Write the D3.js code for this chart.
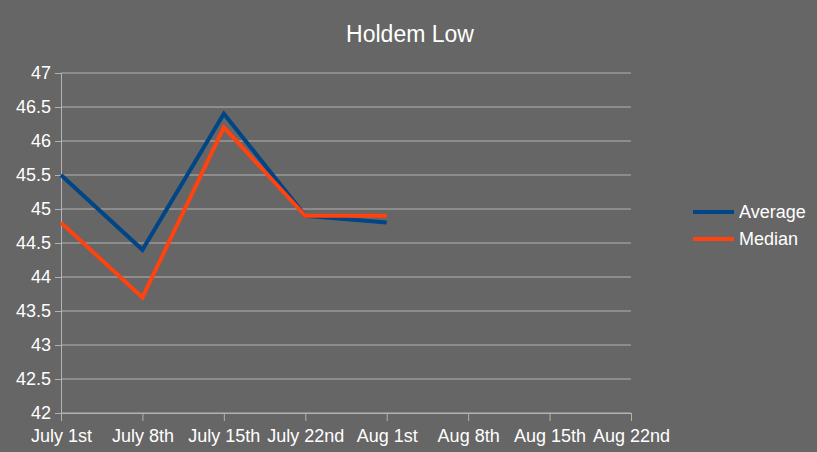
<!DOCTYPE html>
<html>
<head>
<meta charset="utf-8">
<script src="https://cdn.jsdelivr.net/npm/d3@7"></script>
<style>
  body { margin: 0; background: #666666; }
  svg { display: block; font-family: "Liberation Sans", Arial, sans-serif; }
</style>
</head>
<body>
<script>
var categories = ["July 1st", "July 8th", "July 15th", "July 22nd", "Aug 1st", "Aug 8th", "Aug 15th", "Aug 22nd"];
var average = [45.5, 44.4, 46.4, 44.9, 44.8];
var median = [44.8, 43.7, 46.2, 44.9, 44.9];
var yTicks = [42, 42.5, 43, 43.5, 44, 44.5, 45, 45.5, 46, 46.5, 47];

var w = 817, h = 452;
var mLeft = 61, mRight = 631, mTop = 73, mBottom = 413;

var svg = d3.select("body").append("svg")
    .attr("width", w)
    .attr("height", h);

svg.append("rect").attr("width", w).attr("height", h).attr("fill", "#666666");

var x = d3.scalePoint().domain(categories).range([mLeft, mRight]).padding(0);
var y = d3.scaleLinear().domain([42, 47]).range([mBottom, mTop]);

// gridlines
svg.append("g").selectAll("line")
    .data(yTicks)
    .enter().append("line")
    .attr("x1", mLeft).attr("x2", mRight)
    .attr("y1", function (d) { return y(d); })
    .attr("y2", function (d) { return y(d); })
    .attr("stroke", "#b3b3b3")
    .attr("stroke-width", 1);

// y axis
var yAxis = svg.append("g")
    .attr("transform", "translate(" + mLeft + ",0)")
    .call(d3.axisLeft(y).tickValues(yTicks).tickSize(6).tickPadding(4)
        .tickFormat(function (d) { return String(d); }));
yAxis.select(".domain").attr("stroke", "#b3b3b3");
yAxis.selectAll(".tick line").attr("stroke", "#b3b3b3");
yAxis.selectAll("text").attr("fill", "#ffffff").attr("font-size", 18)
    .attr("font-family", "Liberation Sans, Arial, sans-serif");

// x axis
var xAxis = svg.append("g")
    .attr("transform", "translate(0," + mBottom + ")")
    .call(d3.axisBottom(x).tickSize(8).tickPadding(8));
xAxis.select(".domain").attr("stroke", "#b3b3b3");
xAxis.selectAll(".tick line").attr("stroke", "#b3b3b3");
xAxis.selectAll("text").attr("fill", "#ffffff").attr("font-size", 18)
    .attr("font-family", "Liberation Sans, Arial, sans-serif");

// lines
var line = d3.line()
    .x(function (d, i) { return x(categories[i]); })
    .y(function (d) { return y(d); });

svg.append("path").datum(average)
    .attr("d", line)
    .attr("fill", "none")
    .attr("stroke", "#004586")
    .attr("stroke-width", 4);

svg.append("path").datum(median)
    .attr("d", line)
    .attr("fill", "none")
    .attr("stroke", "#ff420e")
    .attr("stroke-width", 4);

// title
svg.append("text")
    .attr("x", 410).attr("y", 42)
    .attr("text-anchor", "middle")
    .attr("fill", "#ffffff")
    .attr("font-size", 23)
    .text("Holdem Low");

// legend
var legend = [
    { name: "Average", color: "#004586" },
    { name: "Median", color: "#ff420e" }
];
var lg = svg.append("g").selectAll("g")
    .data(legend)
    .enter().append("g")
    .attr("transform", function (d, i) { return "translate(693," + (212 + i * 27) + ")"; });
lg.append("line")
    .attr("x1", 0).attr("x2", 41)
    .attr("stroke", function (d) { return d.color; })
    .attr("stroke-width", 4);
lg.append("text")
    .attr("x", 46).attr("y", 6)
    .attr("fill", "#ffffff")
    .attr("font-size", 18)
    .text(function (d) { return d.name; });
</script>
</body>
</html>
